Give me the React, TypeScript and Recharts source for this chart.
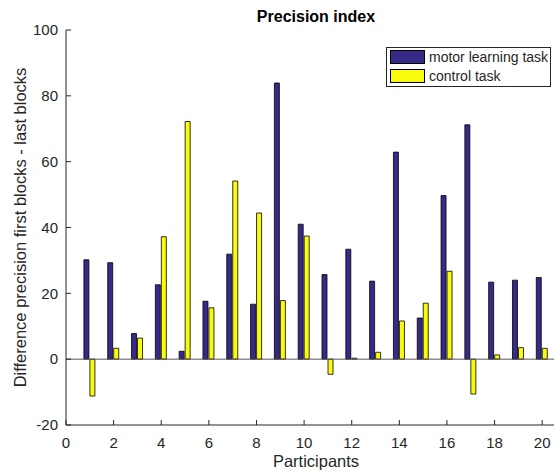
import React from 'react';
import { Bar, BarChart, ReferenceLine, XAxis, YAxis } from 'recharts';

const participants = [1, 2, 3, 4, 5, 6, 7, 8, 9, 10, 11, 12, 13, 14, 15, 16, 17, 18, 19, 20];
const motorLearning = [30.2, 29.3, 7.8, 22.6, 2.4, 17.6, 31.9, 16.7, 83.9, 41.0, 25.7, 33.4, 23.7, 62.9, 12.5, 49.7, 71.2, 23.4, 24.0, 24.8];
const controlTask = [-11.2, 3.3, 6.4, 37.2, 72.2, 15.6, 54.1, 44.4, 17.8, 37.4, -4.6, 0.3, 2.1, 11.6, 17.0, 26.7, -10.6, 1.3, 3.5, 3.3];
const xTicks = [0, 2, 4, 6, 8, 10, 12, 14, 16, 18, 20];
const yTicks = [-20, 0, 20, 40, 60, 80, 100];

const data = participants.map((p, i) => ({ p, motor: motorLearning[i], control: controlTask[i] }));

const ink = '#262626';
const blue = '#352a87';
const yellow = '#f9fb0e';
const font = '"Liberation Sans", Arial, sans-serif';

const LegendBox = () => (
  <div
    style={{
      position: 'absolute', left: 386, top: 47, width: 163, height: 38,
      border: '1px solid #262626', background: '#fff', fontFamily: font, fontSize: 14, color: ink,
    }}
  >
    {[{ c: blue, t: 'motor learning task' }, { c: yellow, t: 'control task' }].map((e, i) => (
      <div key={i} style={{ position: 'absolute', left: 3, top: 2 + i * 19, height: 14, display: 'flex', alignItems: 'center', whiteSpace: 'nowrap' }}>
        <span style={{ width: 33, height: 12, background: e.c, border: '1px solid #000', display: 'inline-block' }} />
        <span style={{ marginLeft: 4 }}>{e.t}</span>
      </div>
    ))}
  </div>
);

export default function App() {
  return (
    <div style={{ position: 'absolute', left: 0, top: 0, width: 554, height: 471, overflow: 'hidden', background: '#fff' }}>
      <BarChart
        width={590}
        height={471}
        data={data}
        margin={{ top: 30, right: 24, bottom: 0, left: 0 }}
        barGap={1}
        style={{ fontFamily: font }}
      >
        <XAxis xAxisId="t" orientation="top" type="number" dataKey="p" domain={[0, 21]} ticks={xTicks}
          height={0} tick={false} tickSize={-5} stroke={ink} />
        <XAxis xAxisId="b" type="number" dataKey="p" domain={[0, 21]} ticks={xTicks} height={46}
          tickSize={-5} tickMargin={17} stroke={ink}
          tick={{ fill: ink, fontSize: 15 }}
          label={{ value: 'Participants', position: 'insideBottom', offset: 4, fill: ink, fontSize: 16.5 }} />
        <YAxis type="number" domain={[-20, 100]} ticks={yTicks} width={66} tickSize={-5} tickMargin={13}
          stroke={ink} tick={{ fill: ink, fontSize: 15 }}
          label={{ value: 'Difference precision first blocks - last blocks', angle: -90, position: 'insideLeft', offset: 20, fill: ink, fontSize: 16.5, style: { textAnchor: 'middle' } }} />
        <ReferenceLine xAxisId="b" y={0} stroke="#555" />
        <Bar xAxisId="b" dataKey="motor" name="motor learning task" fill={blue} stroke="#000" strokeWidth={0.8} barSize={5} isAnimationActive={false} />
        <Bar xAxisId="b" dataKey="control" name="control task" fill={yellow} stroke="#000" strokeWidth={0.8} barSize={5} isAnimationActive={false} />
        <text x={316} y={22} textAnchor="middle" fontSize={16} fontWeight="bold" fill="#000" fontFamily={font}>Precision index</text>
      </BarChart>
      <LegendBox />
    </div>
  );
}
